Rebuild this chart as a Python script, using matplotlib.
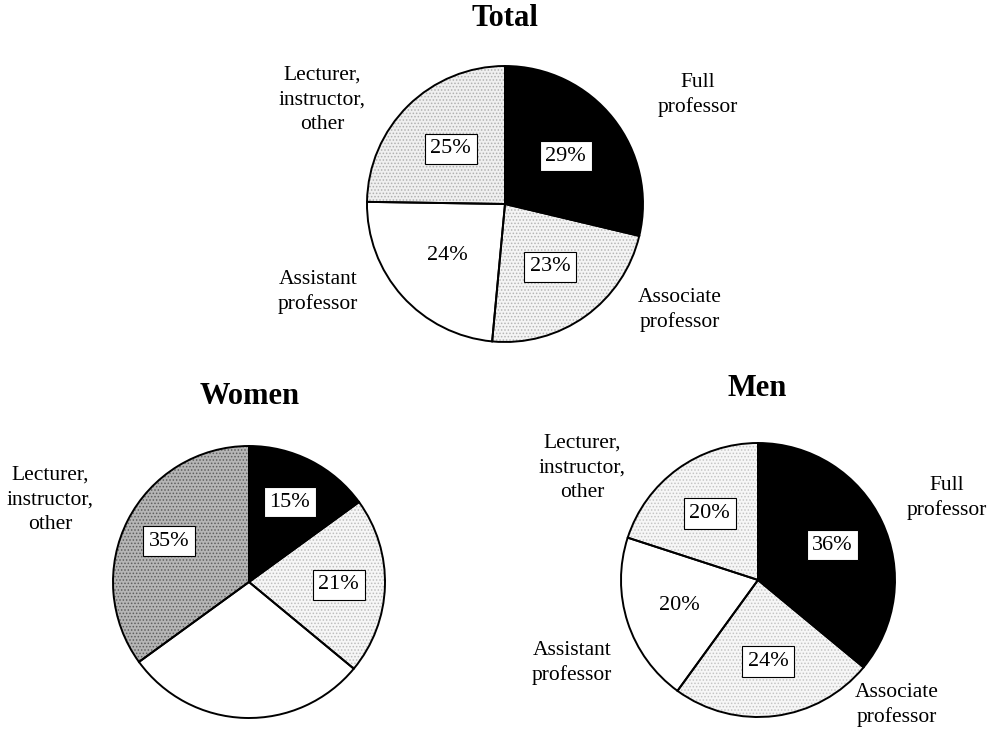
import matplotlib.pyplot as plt
import numpy as np

# shares of faculty by rank (percent), clockwise from 12 o'clock
categories = ['Full\nprofessor', 'Associate\nprofessor', 'Assistant\nprofessor', 'Lecturer,\ninstructor,\nother']
total_share = [29, 23, 24, 25]
women_share = [15, 21, 29, 35]
men_share = [36, 24, 20, 20]

# which percentages are printed on each pie (the women's assistant slice has none)
total_shown = [True, True, True, True]
women_shown = [True, True, False, True]
men_shown = [True, True, True, True]

plt.rcParams['font.family'] = ['Liberation Serif', 'DejaVu Serif']
plt.rcParams['hatch.linewidth'] = 0.7

# layout in pixel units (y measured upward)
layout = {
    'Total': dict(center=(505, 526), radius=138, title_xy=(505, 712), pctdist=0.56,
                  faces=['black', '#f4f4f4', 'white', '#efefef'],
                  dots=[None, '#b5b5b5', None, '#b0b0b0'],
                  label_xy=[(698, 635), (680, 420), (318, 438), (322, 630)]),
    'Women': dict(center=(249, 148), radius=136, title_xy=(250, 333), pctdist=0.66,
                  faces=['black', '#f6f6f6', 'white', '#b5b5b5'],
                  dots=[None, '#bdbdbd', None, '#5e5e5e'],
                  label_xy=[None, None, None, (50, 230)]),
    'Men': dict(center=(758, 150), radius=137, title_xy=(757, 342), pctdist=0.6,
                faces=['black', '#f6f6f6', 'white', '#f6f6f6'],
                dots=[None, '#c4c4c4', None, '#c4c4c4'],
                label_xy=[(947, 232), (897, 25), (572, 67), (582, 262)]),
}

fig = plt.figure(figsize=(9.91, 7.30), dpi=100)
ax = fig.add_axes([0, 0, 1, 1])

for name, values, shown in [('Total', total_share, total_shown),
                            ('Women', women_share, women_shown),
                            ('Men', men_share, men_shown)]:
    lay = layout[name]
    cx, cy = lay['center']
    r = lay['radius']

    # fills with stipple texture
    wedges, _ = ax.pie(values, colors=lay['faces'], startangle=90, counterclock=False,
                       center=(cx, cy), radius=r, normalize=True,
                       wedgeprops=dict(linewidth=0))
    for w, dot in zip(wedges, lay['dots']):
        if dot is not None:
            w.set_hatch('.....')
            w.set_edgecolor(dot)
            w.set_linewidth(0)

    # black outlines on top
    outlines, _ = ax.pie(values, startangle=90, counterclock=False,
                         center=(cx, cy), radius=r, normalize=True,
                         wedgeprops=dict(fill=False, edgecolor='black', linewidth=1.4))

    for w, v, show, face in zip(outlines, values, shown, lay['faces']):
        if not show:
            continue
        ang = np.deg2rad((w.theta1 + w.theta2) / 2)
        x = cx + lay['pctdist'] * r * np.cos(ang)
        y = cy + lay['pctdist'] * r * np.sin(ang)
        box = None
        if face != 'white':
            box = dict(boxstyle='square,pad=0.25', fc='white', ec='black', lw=0.8)
        ax.text(x, y, f'{v}%', ha='center', va='center', fontsize=16, bbox=box)

    for cat, xy in zip(categories, lay['label_xy']):
        if xy is None:
            continue
        ax.text(xy[0], xy[1], cat, ha='center', va='center', fontsize=15.5, linespacing=1.4)

    ax.text(lay['title_xy'][0], lay['title_xy'][1], name, ha='center', va='center',
            fontsize=22, fontweight='bold')

ax.set_xlim(0, 991)
ax.set_ylim(0, 730)
ax.set_aspect('equal')
ax.axis('off')

fig.savefig('out.png', dpi=100)
